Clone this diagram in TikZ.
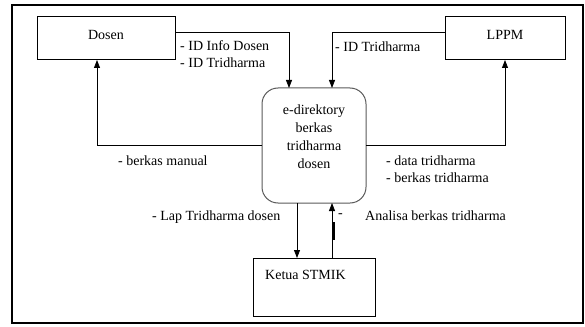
\documentclass[tikz,border=0pt]{standalone}
\usepackage{fontspec}
\setmainfont{Liberation Serif}
\usetikzlibrary{arrows.meta}
\begin{document}
\begin{tikzpicture}[x=1pt,y=-1pt,
  entity/.style={draw,line width=1pt,inner sep=0pt},
  flow/.style={draw,line width=0.8pt,-{Triangle[length=8pt,width=6pt]}},
  lbl/.style={anchor=west,inner sep=0pt,font=\fontsize{14}{17.5}\selectfont,align=left},
  ttl/.style={inner sep=0pt,font=\fontsize{14}{18}\selectfont}]
\useasboundingbox (0,0) rectangle (585,326);
% outer frame
\draw[line width=2pt] (12,5) rectangle (583,323);
% external entities
\draw[entity] (37,17) rectangle (175,60);
\node[ttl] (dosen) at (106,35) {Dosen};
\draw[entity] (445,17) rectangle (565,60);
\node[ttl] (lppm) at (505,35) {LPPM};
\draw[entity] (253,258) rectangle (375,316);
\node[ttl,anchor=west] (ketua) at (265,275) {Ketua STMIK};
% process
\draw[line width=1pt,draw=black!65,rounded corners=16pt] (262,88) rectangle (366,203);
\node[ttl,align=center] (proc) at (314,137) {e-direktory\\berkas\\tridharma\\dosen};
% anchor points of the flows
\coordinate (dR) at (175,32);
\coordinate (dB) at (97,60);
\coordinate (lL) at (445,32);
\coordinate (lB) at (505,60);
\coordinate (pT1) at (289,88);
\coordinate (pT2) at (332,88);
\coordinate (pL) at (262,145);
\coordinate (pR) at (366,145);
\coordinate (pB1) at (297,203);
\coordinate (pB2) at (332,203);
\coordinate (kT1) at (297,258);
\coordinate (kT2) at (332,258);
% flows
\draw[flow] (dR) -| (pT1);
\draw[flow] (lL) -| (pT2);
\draw[flow] (pL) -| (dB);
\draw[flow] (pR) -| (lB);
\draw[flow] (pB1) -- (kT1);
\draw[flow] (kT2) -- (pB2);
\draw[line width=3pt] (333,222) -- (333,240);
% flow labels
\node[lbl] (l1) at (180,54) {- ID Info Dosen\\- ID Tridharma};
\node[lbl] (l2) at (335,47) {- ID Tridharma};
\node[lbl] (l3) at (118,161) {- berkas manual};
\node[lbl] (l4) at (386,169) {- data tridharma\\- berkas tridharma};
\node[lbl] (l5) at (152,217) {- Lap Tridharma dosen};
\node[lbl] (l6) at (338,216) {-};
\node[lbl] (l7) at (365,216) {Analisa berkas tridharma};
\end{tikzpicture}
\end{document}
